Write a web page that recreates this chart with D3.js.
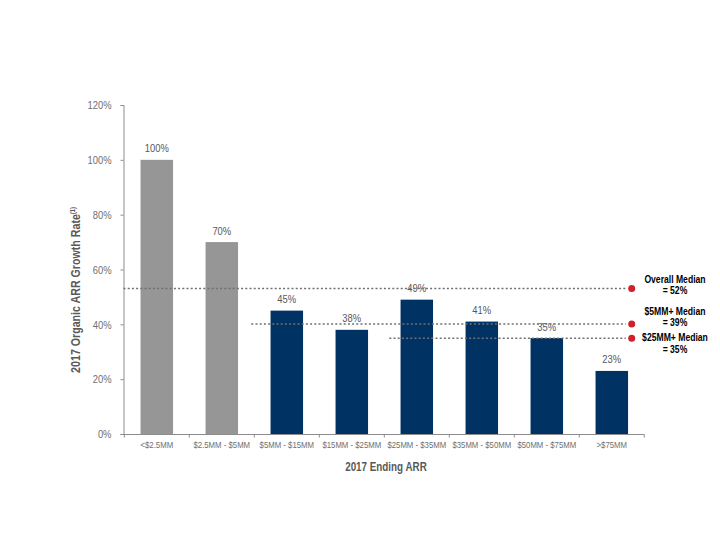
<!DOCTYPE html>
<html><head><meta charset="utf-8">
<script src="https://cdn.jsdelivr.net/npm/d3@7"></script>
<style>body{margin:0;background:#fff}</style>
</head><body>
<svg id="c" width="720" height="540"></svg>
<script>
const categories = ["<$2.5MM","$2.5MM - $5MM","$5MM - $15MM","$15MM - $25MM","$25MM - $35MM","$35MM - $50MM","$50MM - $75MM",">$75MM"];
const growth = [100,70,45,38,49,41,35,23];
const groupType = ["small","small","large","large","large","large","large","large"];
const yTicks = [0,20,40,60,80,100,120];
const medianNames = ["Overall Median","$5MM+ Median","$25MM+ Median"];
const medianLabels = ["= 52%","= 39%","= 35%"];
const medianValues = [53.1,40.1,34.9];
const medianStartCat = [null,"$5MM - $15MM","$25MM - $35MM"];

const svg = d3.select("#c");
const font = "'Liberation Sans',Arial,sans-serif";
const S = 0.82; // narrow font emulation
function condense(sel){
  sel.each(function(){
    let xa = this.getAttribute("x");
    if(xa===null){ const ts=this.querySelector("tspan[x]"); xa = ts?ts.getAttribute("x"):0; }
    const xv = +xa || 0;
    const prev = this.getAttribute("transform")||"";
    this.setAttribute("transform", prev+` translate(${xv*(1-S)},0) scale(${S},1)`);
  });
}
const x = d3.scaleBand().domain(categories).range([124.3,644.3]).paddingInner(0.5).paddingOuter(0.25);
const y = d3.scaleLinear().domain([0,120]).range([434,105]);
const axisCol = "#8c8c8c", tickTextCol = "#6f6f6f", textCol = "#595959";
const boundaryOf = c => x(c) - x.step()*x.paddingInner()/2;

// y axis
const ya = svg.append("g").attr("transform","translate(123.5,0)")
  .call(d3.axisLeft(y).tickValues(yTicks).tickSize(3).tickFormat(d=>d+"%"));
ya.select(".domain").attr("stroke",axisCol);
ya.selectAll(".tick line").attr("stroke",axisCol);
ya.selectAll("text").attr("fill",tickTextCol).style("font-family",font).style("font-size","11.5px").attr("x",-12);
condense(ya.selectAll("text"));

// x axis
const xa = svg.append("g").attr("transform","translate(0,434.5)");
xa.append("line").attr("x1",123.5).attr("x2",x.range()[1]).attr("stroke",axisCol);
const boundaries = categories.map(boundaryOf).concat([x.range()[1]]);
xa.selectAll("line.tk").data(boundaries).join("line").attr("class","tk")
  .attr("x1",d=>d).attr("x2",d=>d).attr("y1",0).attr("y2",3).attr("stroke",axisCol);
const xl = xa.selectAll("text").data(categories).join("text")
  .attr("x",d=>x(d)+x.bandwidth()/2).attr("y",14)
  .attr("text-anchor","middle").attr("fill",tickTextCol)
  .style("font-family",font).style("font-size","9.5px").text(d=>d);
condense(xl);

// bars
svg.selectAll("rect.bar").data(categories).join("rect").attr("class","bar")
  .attr("x",d=>x(d)).attr("width",x.bandwidth())
  .attr("y",(d,i)=>y(growth[i])).attr("height",(d,i)=>y(0)-y(growth[i]))
  .attr("fill",(d,i)=>groupType[i]==="small"?"#969696":"#003263");

// value labels
const vl = svg.selectAll("text.val").data(categories).join("text").attr("class","val")
  .attr("x",d=>x(d)+x.bandwidth()/2).attr("y",(d,i)=>y(growth[i])-7.5)
  .attr("text-anchor","middle").attr("fill",textCol)
  .style("font-family",font).style("font-size","11.5px")
  .text((d,i)=>growth[i]+"%");
condense(vl);

// median lines
const dotX = 631.7;
medianValues.forEach((v,i)=>{
  const x0 = medianStartCat[i]===null ? 123.5 : boundaryOf(medianStartCat[i]) + (i===1?-3:5);
  svg.append("line").attr("x1",x0).attr("x2",dotX-6).attr("y1",y(v)).attr("y2",y(v))
    .attr("stroke","#707070").attr("stroke-width",1.5).attr("stroke-dasharray","2,2.2");
  svg.append("circle").attr("cx",dotX).attr("cy",y(v)).attr("r",3.5).attr("fill","#d0202a");
});
const labY = [[283.5,294.5],[315.5,326],[341.5,353.5]];
medianNames.forEach((n,i)=>{
  const t = svg.append("text").attr("text-anchor","middle").attr("fill","#000")
    .style("font-family",font).style("font-size","10.5px").style("font-weight","bold");
  t.append("tspan").attr("x",675).attr("y",labY[i][0]).text(n);
  t.append("tspan").attr("x",675).attr("y",labY[i][1]).text(medianLabels[i]);
  condense(t);
});

// axis titles
const xt = svg.append("text").attr("x",386).attr("y",471).attr("text-anchor","middle")
  .attr("fill",textCol).style("font-family",font).style("font-size","12px").style("font-weight","bold")
  .text("2017 Ending ARR");
condense(xt);
const yt = svg.append("text").attr("transform",`translate(79.5,290) rotate(-90) scale(${S},1)`).attr("text-anchor","middle")
  .attr("fill",textCol).style("font-family",font).style("font-size","13px").style("font-weight","bold");
yt.append("tspan").text("2017 Organic ARR Growth Rate");
yt.append("tspan").attr("dy",-5).style("font-size","7px").text("(1)");
</script>
</body></html>
